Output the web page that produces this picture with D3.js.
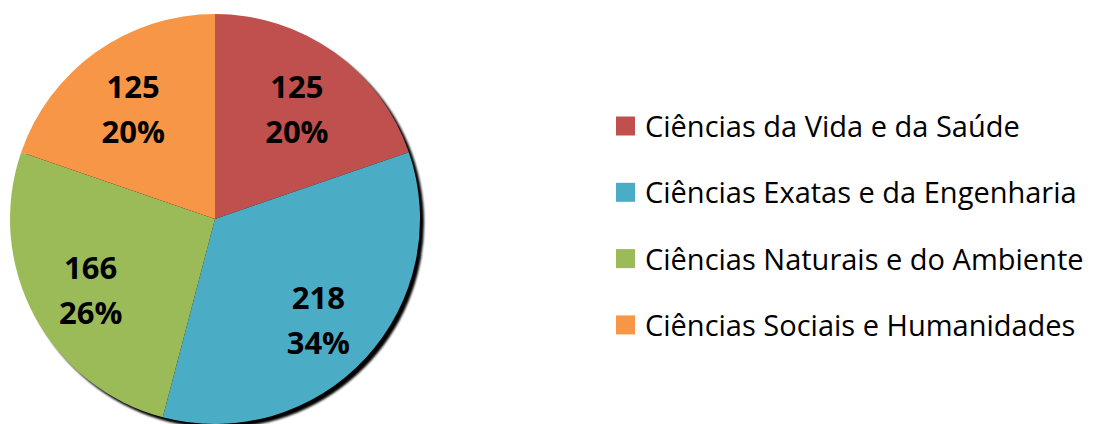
<!DOCTYPE html>
<html>
<head>
<meta charset="utf-8">
<script src="https://cdn.jsdelivr.net/npm/d3@7"></script>
<style>
  body { margin: 0; background: #fff; }
</style>
</head>
<body>
<div id="chart"></div>
<script>
// data
var categories = ["Ciências da Vida e da Saúde", "Ciências Exatas e da Engenharia",
                  "Ciências Naturais e do Ambiente", "Ciências Sociais e Humanidades"];
var values = [125, 218, 166, 125];
var colors = ["#C0504D", "#4BACC6", "#9BBB59", "#F79646"];

var width = 1099, height = 424;
var cx = 215, cy = 219, R = 205;

var svg = d3.select("#chart").append("svg")
    .attr("width", width)
    .attr("height", height);

var defs = svg.append("defs");
defs.append("filter").attr("id", "blur")
  .append("feGaussianBlur").attr("stdDeviation", 1);

var total = d3.sum(values);
var pie = d3.pie().sort(null).value(function(d) { return d; });
var arcs = pie(values);
var arc = d3.arc().innerRadius(0).outerRadius(R);
var labelArc = d3.arc().innerRadius(141).outerRadius(141);

var g = svg.append("g")
    .attr("transform", "translate(" + cx + "," + cy + ")");

// shadow
g.append("circle")
    .attr("cx", 4).attr("cy", 4).attr("r", R)
    .attr("fill", "#000")
    .attr("filter", "url(#blur)");

g.selectAll(".slice")
  .data(arcs)
  .enter().append("path")
    .attr("class", "slice")
    .attr("d", arc)
    .attr("fill", function(d, i) { return colors[i]; });

var labels = g.selectAll(".lbl")
  .data(arcs)
  .enter().append("text")
    .attr("class", "lbl")
    .attr("transform", function(d) { return "translate(" + labelArc.centroid(d) + ")"; })
    .attr("text-anchor", "middle")
    .style("font-family", "'Open Sans', 'DejaVu Sans', sans-serif")
    .style("font-weight", "bold")
    .style("font-size", "31px")
    .style("fill", "#000");

labels.append("tspan")
    .attr("x", 0).attr("y", -6)
    .text(function(d) { return d.data; });
labels.append("tspan")
    .attr("x", 0).attr("y", 39)
    .text(function(d) { return Math.round(d.data / total * 100) + "%"; });

// legend
var legend = svg.append("g")
    .attr("transform", "translate(616,126)");

var item = legend.selectAll(".legend")
  .data(categories)
  .enter().append("g")
    .attr("class", "legend")
    .attr("transform", function(d, i) { return "translate(0," + i * 66.3 + ")"; });

item.append("rect")
    .attr("x", 0).attr("y", -9.5)
    .attr("width", 19).attr("height", 19)
    .attr("fill", function(d, i) { return colors[i]; });

item.append("text")
    .attr("x", 29).attr("y", 11)
    .style("font-family", "'Open Sans', 'DejaVu Sans', sans-serif")
    .style("font-size", "29px")
    .style("fill", "#000")
    .text(function(d) { return d; });
</script>
</body>
</html>
